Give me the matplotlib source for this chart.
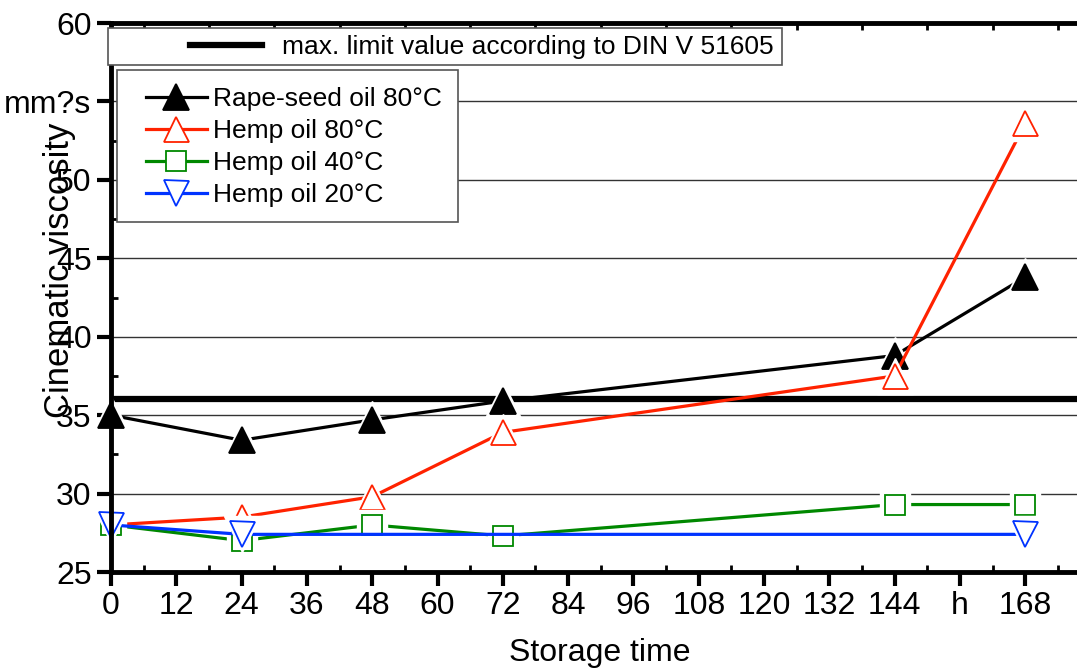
import numpy as np
import matplotlib.pyplot as plt
from matplotlib.lines import Line2D
from matplotlib.patches import Rectangle
from matplotlib.ticker import MultipleLocator

plt.rcParams['font.family'] = ['Liberation Sans', 'DejaVu Sans']

# storage time in hours
hours = [0, 24, 48, 72, 144, 168]
hours_20 = [0, 24, 168]

# kinematic viscosity in mm2/s
rape_80 = [35.0, 33.4, 34.7, 35.9, 38.8, 43.8]
hemp_80 = [28.0, 28.5, 29.8, 33.9, 37.5, 53.6]
hemp_40 = [28.0, 27.0, 28.0, 27.3, 29.3, 29.3]
hemp_20 = [28.0, 27.4, 27.4]

din_limit = 36.0

x_ticks = [0, 12, 24, 36, 48, 60, 72, 84, 96, 108, 120, 132, 144, 156, 168]
x_ticklabels = ['0', '12', '24', '36', '48', '60', '72', '84', '96', '108',
                '120', '132', '144', 'h', '168']
y_ticks = [25, 30, 35, 40, 45, 50, 55, 60]
y_ticklabels = ['25', '30', '35', '40', '45', '50', 'mm?s', '60']

W, H = 1077, 670
fig = plt.figure(figsize=(W / 100, H / 100), dpi=100)
ax = fig.add_axes([111 / W, 1 - 572 / H, 1 - 111 / W, 549 / H])

ax.set_xlim(0, 177.5)
ax.set_ylim(25, 60)

for y in [30, 35, 40, 45, 50, 55]:
    ax.axhline(y, color='#333333', lw=1.0, zorder=1)

ax.axhline(din_limit, color='black', lw=4.5, zorder=2)

series = [
    (hours, rape_80, 'black', '^', 19, 'black', 'Rape-seed oil 80°C'),
    (hours, hemp_80, '#ff2200', '^', 18, 'white', 'Hemp oil 80°C'),
    (hours, hemp_40, '#008800', 's', 14, 'white', 'Hemp oil 40°C'),
    (hours_20, hemp_20, '#0033ff', 'v', 18, 'white', 'Hemp oil 20°C'),
]

handles = []
for i, (x, y, col, mk, ms, face, lab) in enumerate(series):
    z = 3 + i * 3
    ax.plot(x, y, color=col, lw=2.3, zorder=z, clip_on=False)
    # white halo so the line stops short of each marker
    ax.plot(x, y, ls='none', marker=mk, ms=ms + 8, mfc='white', mec='white',
            zorder=z + 1, clip_on=False)
    ax.plot(x, y, ls='none', marker=mk, ms=ms, mfc=face, mec=col, mew=1.3,
            zorder=z + 2, clip_on=False)
    handles.append(Line2D([], [], color=col, lw=2.3, marker=mk, ms=ms,
                          mfc=face, mec=col, mew=1.3, label=lab))

ax.set_xticks(x_ticks)
ax.set_xticklabels(x_ticklabels)
ax.set_yticks(y_ticks)
ax.set_yticklabels(y_ticklabels)
ax.xaxis.set_minor_locator(MultipleLocator(6))
ax.yaxis.set_minor_locator(MultipleLocator(2.5))

ax.tick_params(axis='both', which='major', direction='out', length=10, width=3,
               labelsize=23, pad=4)
ax.tick_params(axis='both', which='minor', direction='in', length=5, width=2)
ax.tick_params(axis='x', which='minor', top=True)

for side in ['left', 'bottom', 'top']:
    ax.spines[side].set_linewidth(3.5)
    ax.spines[side].set_zorder(30)
ax.spines['right'].set_visible(False)

ax.set_ylabel('Cinematic viscosity', fontsize=25)
ax.yaxis.set_label_coords(-0.036, 0.55)
ax.set_xlabel('Storage time', fontsize=23)
ax.xaxis.set_label_coords(0.506, -0.12)

# legend boxes drawn as plain rectangles in pixel coordinates
def box(x0, y0, x1, y1):
    rect = Rectangle((x0 / W, 1 - y1 / H), (x1 - x0) / W, (y1 - y0) / H,
                     transform=fig.transFigure, facecolor='white',
                     edgecolor='#555555', lw=1.2, zorder=15)
    fig.add_artist(rect)

box(108, 28, 782, 65)
box(117, 70, 458, 222)

leg1 = fig.legend([Line2D([], [], color='black', lw=4.5)],
                  ['max. limit value according to DIN V 51605'],
                  loc='center left', bbox_to_anchor=(190 / W, 1 - 47 / H),
                  fontsize=19, frameon=False, handlelength=2.73,
                  handletextpad=0.76, borderpad=0, borderaxespad=0)
leg1.set_zorder(20)

leg2 = fig.legend(handles=handles, loc='center left',
                  bbox_to_anchor=(146 / W, 1 - 147 / H),
                  fontsize=19, frameon=False, handlelength=2.31,
                  handletextpad=0.23, labelspacing=0.3, borderpad=0,
                  borderaxespad=0)
leg2.set_zorder(20)

fig.savefig('out.png', dpi=100)
